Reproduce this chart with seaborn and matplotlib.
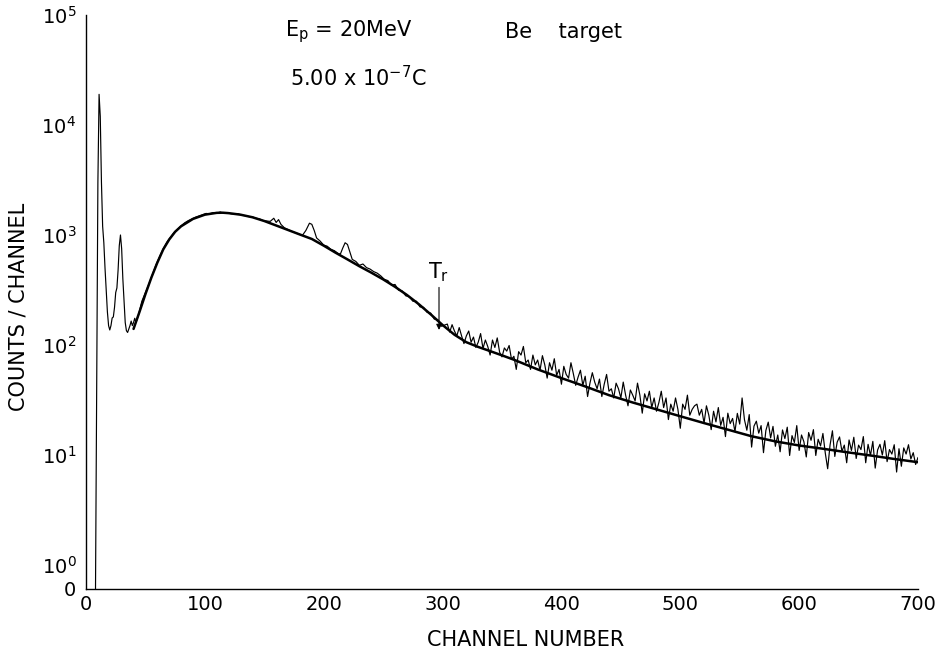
import numpy as np
import pandas as pd
import matplotlib
matplotlib.use("Agg")
import matplotlib.pyplot as plt
import seaborn as sns

# ---------------- data ----------------
# raw spectrum: low-channel peaks, channel by channel
PEAK_CH = list(range(8, 43))
PEAK_COUNTS = [0, 50, 3000, 19000, 12000, 3000, 1200, 850, 500, 320,
               200, 150, 137, 150, 176, 180, 220, 300, 330, 480,
               800, 1000, 750, 400, 250, 160, 135, 130, 140, 150,
               165, 150, 160, 175, 160]

# raw spectrum: broad continuum up to the Tr mark
MID_CH = [44, 47, 50, 53, 56, 59, 62, 65, 68, 71, 74, 77, 80, 83, 86, 89, 92, 95,
          98, 101, 104, 107, 110, 113, 116, 119, 122, 125, 128, 131, 134, 137,
          140, 143, 146, 149, 152, 155, 158, 160, 162, 164, 167, 170, 173, 176,
          179, 182, 185, 188, 190, 192, 194, 197, 200, 203, 206, 209, 212, 214,
          216, 218, 220, 222, 224, 227, 230, 233, 236, 239, 242, 245, 248, 251,
          254, 257, 260, 263, 266, 269, 272, 275, 278, 281, 284, 287, 290, 293,
          296, 299]
MID_COUNTS = [185, 250, 300, 360, 440, 540, 640, 750, 860, 950,
              1050, 1130, 1210, 1290, 1350, 1400, 1450, 1490, 1530, 1570,
              1560, 1600, 1580, 1620, 1570, 1600, 1560, 1550, 1560, 1510,
              1500, 1470, 1460, 1420, 1400, 1350, 1340, 1330,
              1420, 1300, 1380, 1250,
              1160, 1120, 1080, 1050, 1020, 990,
              1100, 1280, 1250, 1100, 940,
              880, 810, 790, 740, 720, 680,
              670, 760, 850, 820, 700, 600,
              575, 530, 545, 505, 490, 465, 450, 425, 395, 385,
              350, 355, 315, 310, 280, 275, 250, 250, 222, 220,
              198, 195, 172, 170, 148]

# raw spectrum: noisy tail, every second channel
TAIL_CH = list(range(302, 701, 2))
TAIL_COUNTS = [152, 155, 131, 153, 134, 121, 144, 121, 103, 121,
               134, 106, 118, 95, 106, 127, 93, 111, 97, 81,
               111, 95, 116, 86, 78, 94, 88, 99, 74, 79,
               60, 87, 81, 97, 69, 73, 60, 81, 66, 73,
               59, 80, 66, 50, 69, 59, 75, 53, 60, 44,
               64, 54, 50, 69, 55, 43, 51, 59, 43, 52,
               34, 45, 56, 46, 40, 49, 34, 44, 54, 38,
               40, 33, 45, 40, 33, 46, 35, 28, 39, 35,
               31, 45, 35, 24, 36, 31, 38, 27, 33, 25,
               30, 38, 27, 33, 21, 29, 25, 33, 26, 17.5,
               29, 26, 35, 23, 26, 28, 29, 23, 26, 19.5,
               28, 23, 17, 25, 20, 27, 18.6, 22, 14.7, 24,
               19.3, 21.5, 16.3, 23.9, 19.1, 33, 20.9, 16.8, 23.3, 11.8,
               18.3, 20.3, 15.8, 18.5, 10.5, 16.7, 19.9, 14.3, 18.2, 12.0,
               15.2, 10.7, 16.9, 14.1, 17.9, 9.9, 15.0, 13.0, 18.5, 11.0,
               15.2, 13.2, 9.6, 16.0, 13.6, 17.0, 9.9, 13.9, 12.1, 15.7,
               10.4, 7.5, 12.3, 16.6, 9.7, 13.1, 14.6, 10.8, 12.3, 8.5,
               13.7, 11.0, 14.5, 9.3, 12.3, 11.2, 14.7, 8.5, 12.5, 9.9,
               13.3, 7.6, 11.1, 12.5, 10.0, 13.5, 8.7, 11.2, 10.2, 12.4,
               7.0, 11.4, 7.9, 11.6, 10.2, 12.4, 9.2, 10.5, 8.2, 9.5]

# smooth fitted continuum
FIT_CH = [40, 45, 50, 55, 60, 65, 70, 75, 80, 90, 100, 110, 115, 120, 130, 140,
          150, 160, 170, 180, 190, 200, 210, 220, 230, 240, 250, 260, 270, 280,
          290, 300, 310, 320, 330, 340, 350, 360, 380, 400, 420, 440, 460, 480,
          500, 520, 540, 560, 580, 600, 620, 640, 660, 680, 700]
FIT_COUNTS = [140, 200, 290, 410, 560, 740, 910, 1070, 1200, 1400, 1530, 1590,
              1595, 1580, 1530, 1450, 1340, 1220, 1110, 1010, 920, 800, 690, 600,
              520, 455, 395, 338, 285, 235, 190, 152, 124, 106, 96, 88, 80.5,
              73.5, 60, 50, 42, 35, 30, 26, 22.5, 19.5, 17, 14.8, 13.3, 12.2,
              11.4, 10.6, 9.9, 9.2, 8.6]

Y_FLOOR = 0.605          # where "0" counts sits on the log axis
Y_TICKS = [1, 10, 100, 1000, 10000, 100000]
Y_TICK_LABELS = [r"$\mathregular{10^{0}}$", r"$\mathregular{10^{1}}$",
                 r"$\mathregular{10^{2}}$", r"$\mathregular{10^{3}}$",
                 r"$\mathregular{10^{4}}$", r"$\mathregular{10^{5}}$"]
X_TICKS = [0, 100, 200, 300, 400, 500, 600, 700]
TR_CHANNEL = 297

# ---------------- build frames ----------------
raw = pd.DataFrame({
    "channel": PEAK_CH + MID_CH + TAIL_CH,
    "counts": PEAK_COUNTS + MID_COUNTS + TAIL_COUNTS,
})
raw["plot_counts"] = np.where(raw["counts"] <= 0, Y_FLOOR, raw["counts"])
fit = pd.DataFrame({"channel": FIT_CH, "counts": FIT_COUNTS})

# ---------------- figure ----------------
sns.set_style("white")
plt.rcParams["font.family"] = ["DejaVu Sans"]
plt.rcParams["mathtext.default"] = "regular"
for key in ("text.color", "axes.labelcolor", "xtick.color", "ytick.color",
            "axes.edgecolor"):
    plt.rcParams[key] = "black"

W, H = 938, 660
fig = plt.figure(figsize=(W / 100, H / 100), dpi=100)
ax = fig.add_axes([86 / W, 1 - 589 / H, (918 - 86) / W, (589 - 15) / H])

sns.lineplot(data=raw, x="channel", y="plot_counts", ax=ax, color="black",
             lw=0.85, estimator=None, sort=False)
sns.lineplot(data=fit, x="channel", y="counts", ax=ax, color="black",
             lw=1.8, estimator=None, sort=False)

ax.set_yscale("log")
ax.set_xlim(0, 700)
ax.set_ylim(Y_FLOOR, 1e5)

ax.set_yticks([Y_FLOOR] + Y_TICKS)
ax.set_yticklabels(["0"] + Y_TICK_LABELS)
ax.yaxis.set_minor_locator(matplotlib.ticker.LogLocator(base=10, subs=np.arange(2, 10)))
ax.yaxis.set_minor_formatter(matplotlib.ticker.NullFormatter())
ax.set_xticks(X_TICKS)
ax.set_xticklabels([str(t) for t in X_TICKS])

ax.tick_params(axis="y", which="major", direction="in", length=8, width=0.9,
               labelsize=14, pad=7)
ax.tick_params(axis="y", which="minor", direction="in", length=2.5, width=0.8)
ax.tick_params(axis="x", which="major", direction="in", length=3, width=0.9,
               labelsize=14, pad=4)

for s in ("top", "right"):
    ax.spines[s].set_visible(False)
for s in ("left", "bottom"):
    ax.spines[s].set_linewidth(1.0)

ax.set_xlabel("CHANNEL NUMBER", fontsize=15)
ax.set_ylabel("COUNTS / CHANNEL", fontsize=15, va="center")
ax.xaxis.set_label_coords((526 - 86) / 832, (589 - 640) / 574)
ax.yaxis.set_label_coords((19 - 86) / 832, (589 - 307) / 574)
ax.xaxis.label.set_va("center")

# annotations
fig.text(285 / W, 1 - 32 / H, r"$\mathregular{E_p}$ = 20MeV", fontsize=15,
         ha="left", va="center")
fig.text(505 / W, 1 - 32 / H, "Be    target", fontsize=15, ha="left", va="center")
fig.text(290 / W, 1 - 78 / H, r"5.00 x 10$^{-7}$C", fontsize=15,
         ha="left", va="center")

tr_y = 137
ax.annotate(r"$\mathregular{T_r}$", xy=(TR_CHANNEL, tr_y),
            xytext=(0, 33), textcoords="offset points", ha="center", va="bottom",
            fontsize=15,
            arrowprops=dict(arrowstyle="-|>", color="black", lw=0.8,
                            mutation_scale=8, shrinkA=0, shrinkB=0))

fig.savefig("out.png", dpi=100, facecolor="white")
